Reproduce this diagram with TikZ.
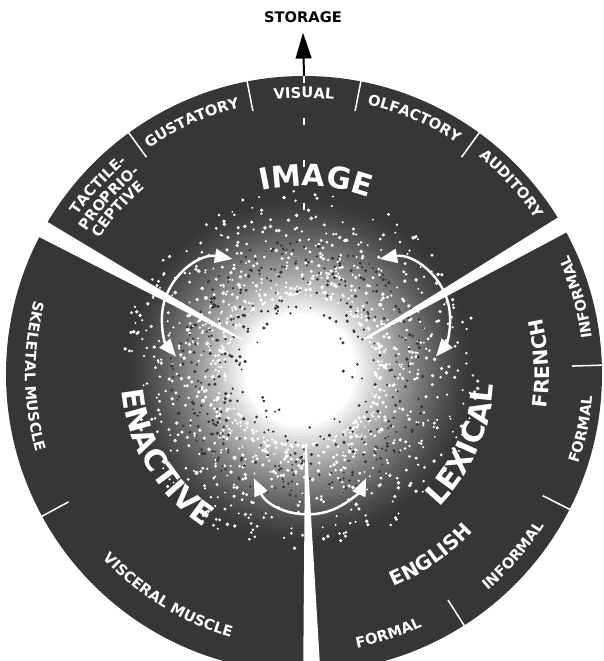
\documentclass[tikz,border=0pt]{standalone}
\usepackage{fontspec}
\setsansfont{DejaVu Sans}
\usepackage{xcolor}
\usepackage{tikz}
\usetikzlibrary{arrows.meta,calc,decorations.text}
\definecolor{wheel}{HTML}{363638}

\newcommand\wlbig{\sffamily\bfseries\fontsize{25.5}{28}\selectfont\color{white}}
\newcommand\wlmid{\sffamily\bfseries\fontsize{17}{19}\selectfont\color{white}}
\newcommand\wlrim{\sffamily\bfseries\fontsize{12.5}{14}\selectfont\color{white}}

% text on an arc round the hub: \rimout reads clockwise (tops out), \rimin anticlockwise (tops in)
\newcommand\rimout[4]{\path[decorate,decoration={text along path,text align=center,text={|#3|#4}}]
  ({#1+45}:#2) arc[start angle=#1+45,end angle=#1-45,radius=#2];}
\newcommand\rimin[4]{\path[decorate,decoration={text along path,text align=center,text={|#3|#4}}]
  ({#1-45}:#2) arc[start angle=#1-45,end angle=#1+45,radius=#2];}

\begin{document}
\begin{tikzpicture}[x=0.03cm,y=0.03cm,
  gap/.style={fill=white},
  divider/.style={draw=white,line width=1.3pt},
  swing/.style={draw=white,line width=2.1pt,{Triangle[length=15pt,width=12pt]}-{Triangle[length=15pt,width=12pt]}},
  storearrow/.style={draw=black,line width=1.7pt,-{Triangle[length=22pt,width=13.5pt]}},
  storelbl/.style={font=\sffamily\bfseries\fontsize{12.5}{14}\selectfont,inner sep=0pt}]
  \useasboundingbox (-304,-287) rectangle (299,374);

  \coordinate (hub) at (0,0);
  \coordinate (core) at (-4,4);
  \coordinate (rimtop) at (90:298);
  \fill[wheel] (hub) circle[radius=298];

  % glow in the middle
  \foreach \r in {174,171,...,57}{
    \pgfmathsetmacro\p{100*((176-\r)/120)^1.4}
    \fill[white!\p!wheel] (core) circle[radius=\r];
  }
  \fill[white] (core) circle[radius=56];

  \pgfmathsetseed{11}
  \foreach \k in {1,...,1100}{
    \pgfmathsetmacro\ra{75+105*rnd^1.5}
    \pgfmathsetmacro\an{360*rnd}
    \fill[white] ($(core)+(\an:\ra)$) circle[radius={1+rnd}];
  }
  \foreach \k in {1,...,450}{
    \pgfmathsetmacro\ra{40+90*sqrt(rnd)}
    \pgfmathsetmacro\an{360*rnd}
    \fill[wheel] ($(core)+(\an:\ra)$) circle[radius={1+0.8*rnd}];
  }

  \foreach \a in {151,30,271.5}
    \fill[gap,rotate=\a] (70,-0.8) -- (310,-9) -- (310,9) -- (70,0.8) -- cycle;
  \foreach \a in {54,79,101,126,208.5,1.7,-27,-57.5}
    \draw[divider] (\a:268) -- (\a:302);
  \draw[white,line width=1.4pt,dash pattern=on 6 off 30] (rimtop) -- (0,150);

  \coordinate (ie) at (-82,56);
  \coordinate (il) at (86,56);
  \coordinate (el) at (6,-78);
  \draw[swing] ($(ie)+(80:60)$) arc[start angle=80,end angle=220,radius=60];
  \draw[swing] ($(il)+(100:60)$) arc[start angle=100,end angle=-40,radius=60];
  \draw[swing] ($(el)+(205:62)$) arc[start angle=205,end angle=335,radius=62];

  \rimout{86.5}{188}{\wlbig}{IMAGE}
  \rimin{211}{183}{\wlbig}{ENACTIVE}
  \rimin{-24}{190}{\wlbig}{LEXICAL}
  \rimin{2.6}{245}{\wlmid}{FRENCH}
  \rimin{-55}{231}{\wlmid}{ENGLISH}

  \rimout{90}{276}{\wlrim}{VISUAL}
  \rimout{114}{274}{\wlrim}{GUSTATORY}
  \rimout{66.7}{277}{\wlrim}{OLFACTORY}
  \rimout{42.5}{279}{\wlrim}{AUDITORY}
  \rimout{137.5}{276}{\wlrim}{TACTILE-}
  \rimout{138}{260}{\wlrim}{PROPRIO-}
  \rimout{138.5}{245}{\wlrim}{CEPTIVE}
  \rimin{180.5}{279}{\wlrim}{SKELETAL MUSCLE}
  \rimin{238.5}{273}{\wlrim}{VISCERAL MUSCLE}
  \rimin{-72}{279}{\wlrim}{FORMAL}
  \rimin{-41}{284}{\wlrim}{INFORMAL}
  \rimin{-11.3}{289}{\wlrim}{FORMAL}
  \rimin{15.7}{290}{\wlrim}{INFORMAL}

  \node[storelbl] (storage) at (-1,357) {STORAGE};
  \draw[storearrow] (rimtop) -- ([yshift=-0.3cm]storage.south);
\end{tikzpicture}
\end{document}
